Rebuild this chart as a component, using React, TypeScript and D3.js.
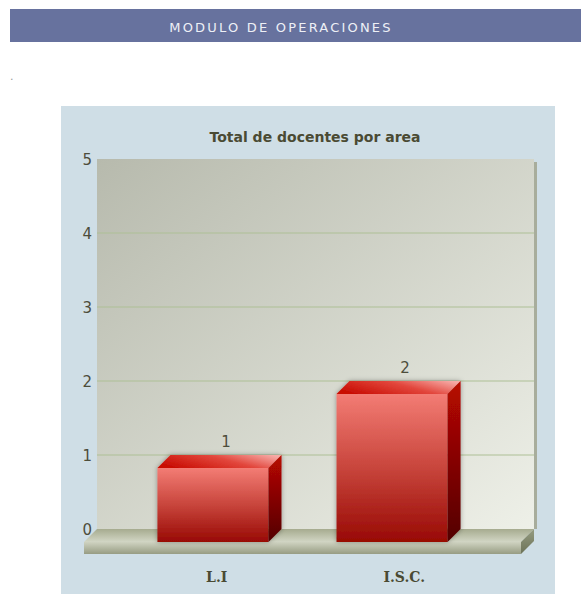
import React from "react";
import * as d3 from "d3";

const categories = ["L.I", "I.S.C."];
const values = [1, 2];
const yTicks = [0, 1, 2, 3, 4, 5];
const chartTitle = "Total de docentes por area";
const headerTitle = "MODULO DE OPERACIONES";

const W = 581;
const H = 594;
const DX = 13;
const DY = 13;

export default function App() {
  const y = d3.scaleLinear().domain([0, 5]).range([542, 172]);
  const x = d3
    .scaleBand<string>()
    .domain(categories)
    .range([84, 521])
    .paddingInner(0.38)
    .paddingOuter(0.41);
  const xLabel = d3.scaleBand<string>().domain(categories).range([123, 498]);

  const floorY = y(0);
  const backLeft = 84 + DX;
  const backRight = 521 + DX;
  const backTop = y(5) - DY;
  const backBottom = floorY - DY;

  return (
    <svg
      width={W}
      height={H}
      style={{ position: "absolute", left: 0, top: 0 }}
      fontFamily="'DejaVu Sans', Verdana, sans-serif"
    >
      <defs>
        <linearGradient id="wall" x1="0" y1="0" x2="1" y2="1">
          <stop offset="0%" stopColor="#b7baad" />
          <stop offset="100%" stopColor="#eef0e8" />
        </linearGradient>
        <linearGradient id="front" x1="0" y1="0" x2="0" y2="1">
          <stop offset="0%" stopColor="#f37c74" />
          <stop offset="50%" stopColor="#c8453c" />
          <stop offset="100%" stopColor="#980904" />
        </linearGradient>
        <linearGradient id="top" x1="0" y1="0.6" x2="1" y2="0.2">
          <stop offset="0%" stopColor="#c90f05" />
          <stop offset="55%" stopColor="#e2463c" />
          <stop offset="100%" stopColor="#f6aaa6" />
        </linearGradient>
        <linearGradient id="side" x1="0" y1="0" x2="0" y2="1">
          <stop offset="0%" stopColor="#b80800" />
          <stop offset="100%" stopColor="#520000" />
        </linearGradient>
        <linearGradient id="floorTop" x1="0" y1="0" x2="0" y2="1">
          <stop offset="0%" stopColor="#a6ab8f" />
          <stop offset="100%" stopColor="#d2d6c5" />
        </linearGradient>
        <linearGradient id="floorFront" x1="0" y1="0" x2="0" y2="1">
          <stop offset="0%" stopColor="#cfd3c1" />
          <stop offset="100%" stopColor="#979c83" />
        </linearGradient>
        <linearGradient id="floorSide" x1="0" y1="0" x2="0" y2="1">
          <stop offset="0%" stopColor="#959b80" />
          <stop offset="100%" stopColor="#6c7358" />
        </linearGradient>
        <filter id="shadow" x="-20%" y="-20%" width="140%" height="140%">
          <feDropShadow dx="0" dy="0" stdDeviation="2.5" floodColor="#000" floodOpacity="0.35" />
        </filter>
      </defs>

      {/* header */}
      <rect x={10} y={9} width={W - 10} height={33} fill="#67729e" />
      <text
        x={281}
        y={32}
        textAnchor="middle"
        fontSize={13}
        letterSpacing={2.2}
        fill="#eef0f6"
      >
        {headerTitle}
      </text>
      <text x={10} y={80} fontSize={11} fill="#999">.</text>

      {/* panel */}
      <rect x={61} y={106} width={494} height={H - 106} fill="#cfdee6" />
      <text
        x={315}
        y={142}
        textAnchor="middle"
        fontSize={14}
        fontWeight="bold"
        fill="#4a4a33"
      >
        {chartTitle}
      </text>

      {/* back wall */}
      <rect x={backRight} y={backTop + 3} width={3} height={backBottom - backTop - 3} fill="#a8ad9c" />
      <rect
        x={backLeft}
        y={backTop}
        width={backRight - backLeft}
        height={backBottom - backTop}
        fill="url(#wall)"
      />
      {yTicks
        .filter((t) => t > 0 && t < 5)
        .map((t) => (
          <line
            key={t}
            x1={backLeft}
            x2={backRight}
            y1={y(t) - DY}
            y2={y(t) - DY}
            stroke="#aebf95"
            strokeWidth={1.2}
          />
        ))}
      {yTicks.map((t) => (
        <text
          key={t}
          x={92}
          y={y(t) - DY + 5.5}
          textAnchor="end"
          fontSize={15}
          fill="#4d4d3b"
        >
          {t}
        </text>
      ))}

      {/* floor */}
      <polygon
        points={`84,${floorY} ${backLeft},${backBottom} ${backRight},${backBottom} 521,${floorY}`}
        fill="url(#floorTop)"
      />
      <rect x={84} y={floorY} width={521 - 84} height={12} fill="url(#floorFront)" />
      <polygon
        points={`521,${floorY} ${backRight},${backBottom} ${backRight},${backBottom + 12} 521,${floorY + 12}`}
        fill="url(#floorSide)"
      />

      {/* bars */}
      {categories.map((c, i) => {
        const x0 = x(c)!;
        const x1 = x0 + x.bandwidth();
        const yv = y(values[i]);
        return (
          <g key={c}>
            <g filter="url(#shadow)">
              <rect x={x0} y={yv} width={x1 - x0} height={floorY - yv} fill="url(#front)" />
              <polygon
                points={`${x0},${yv} ${x0 + DX},${yv - DY} ${x1 + DX},${yv - DY} ${x1},${yv}`}
                fill="url(#top)"
              />
              <polygon
                points={`${x1},${yv} ${x1 + DX},${yv - DY} ${x1 + DX},${floorY - DY} ${x1},${floorY}`}
                fill="url(#side)"
              />
            </g>
            <text
              x={(x0 + x1) / 2 + DX}
              y={yv - DY - 8.5}
              textAnchor="middle"
              fontSize={15}
              fill="#4d4d3b"
            >
              {values[i]}
            </text>
          </g>
        );
      })}

      {/* category labels */}
      {categories.map((c) => (
        <text
          key={c}
          x={xLabel(c)! + xLabel.bandwidth() / 2}
          y={582}
          textAnchor="middle"
          fontSize={14}
          fontWeight="bold"
          fontFamily="'DejaVu Serif', Georgia, serif"
          fill="#4a4a33"
        >
          {c}
        </text>
      ))}
    </svg>
  );
}
